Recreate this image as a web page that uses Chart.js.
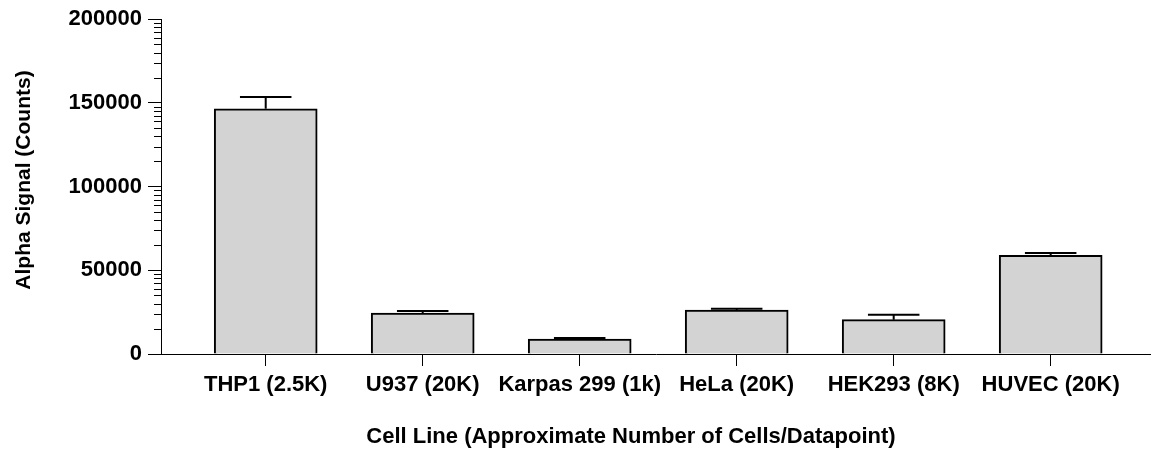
<!DOCTYPE html>
<html>
<head>
<meta charset="utf-8">
<script src="https://cdn.jsdelivr.net/npm/chart.js@4/dist/chart.umd.min.js"></script>
<style>
  html, body { margin: 0; padding: 0; background: #fff; }
  canvas { display: block; }
</style>
</head>
<body>
<canvas id="c" width="1151" height="453"></canvas>
<script>
const categories = ['THP1 (2.5K)', 'U937 (20K)', 'Karpas 299 (1k)', 'HeLa (20K)', 'HEK293 (8K)', 'HUVEC (20K)'];
const means = [146500, 24400, 8900, 26200, 20500, 59000];
const errors = [7000, 1300, 700, 800, 2900, 1400];
const yTicks = [0, 50000, 100000, 150000, 200000];
const xTitle = 'Cell Line (Approximate Number of Cells/Datapoint)';
const yTitle = 'Alpha Signal (Counts)';

const FONT = '"Liberation Sans", Arial, Helvetica, sans-serif';

const minorTicks = {
  id: 'minorTicks',
  afterDraw(chart) {
    const ys = chart.scales.y;
    const ctx = chart.ctx;
    const left = chart.chartArea.left;
    ctx.save();
    ctx.strokeStyle = '#000';
    ctx.lineWidth = 1;
    for (let j = 0; j < yTicks.length - 1; j++) {
      const base = yTicks[j];
      const step = yTicks[j + 1] - yTicks[j];
      for (let k = 2; k <= 9; k++) {
        const y = Math.round(ys.getPixelForValue(base + step * Math.log10(k))) + 0.5;
        ctx.beginPath();
        ctx.moveTo(left - 7, y);
        ctx.lineTo(left, y);
        ctx.stroke();
      }
    }
    ctx.restore();
  }
};

const errorBars = {
  id: 'errorBars',
  afterDatasetsDraw(chart) {
    const xs = chart.scales.x, ys = chart.scales.y;
    const ctx = chart.ctx;
    const meta = chart.getDatasetMeta(0);
    ctx.save();
    ctx.strokeStyle = '#000';
    ctx.lineWidth = 2;
    means.forEach((m, i) => {
      const x = xs.getPixelForValue(i);
      const yb = ys.getPixelForValue(m);
      const yt = ys.getPixelForValue(m + errors[i]);
      const half = meta.data[i].width / 4;
      ctx.beginPath();
      ctx.moveTo(x, yb);
      ctx.lineTo(x, yt);
      ctx.moveTo(x - half, yt);
      ctx.lineTo(x + half, yt);
      ctx.stroke();
    });
    ctx.restore();
  }
};

const axisTitles = {
  id: 'axisTitles',
  afterDraw(chart) {
    const ctx = chart.ctx;
    ctx.save();
    ctx.fillStyle = '#000';
    ctx.textAlign = 'center';
    ctx.textBaseline = 'middle';
    ctx.font = 'bold 22px ' + FONT;
    ctx.fillText(xTitle, 631, 437);
    ctx.translate(24, 180);
    ctx.rotate(-Math.PI / 2);
    ctx.font = 'bold 21px ' + FONT;
    ctx.fillText(yTitle, 0, 0);
    ctx.restore();
  }
};

new Chart(document.getElementById('c'), {
  type: 'bar',
  data: {
    datasets: [{
      data: means.map((v, i) => ({ x: i, y: v })),
      backgroundColor: '#d3d3d3',
      borderColor: '#000',
      borderWidth: 2,
      barThickness: 103
    }]
  },
  options: {
    responsive: false,
    devicePixelRatio: 1,
    animation: false,
    layout: { padding: { left: 0, right: 0, top: 16, bottom: 0 } },
    plugins: { legend: { display: false }, tooltip: { enabled: false } },
    scales: {
      x: {
        type: 'linear',
        offset: false,
        min: -0.667,
        max: 5.639,
        afterBuildTicks(scale) { scale.ticks = categories.map((c, i) => ({ value: i })); },
        afterFit(scale) { scale.height = 99; },
        ticks: {
          autoSkip: false,
          maxRotation: 0,
          minRotation: 0,
          padding: 6,
          color: '#000',
          font: { family: FONT, size: 22, weight: 'bold' },
          callback: (v) => categories[v]
        },
        grid: { display: true, offset: false, drawOnChartArea: false, drawTicks: true, tickLength: 12, color: '#000', lineWidth: 1 },
        border: { display: true, color: '#000', width: 1 }
      },
      y: {
        min: 0,
        max: 200000,
        afterBuildTicks(scale) { scale.ticks = yTicks.map(v => ({ value: v })); },
        afterFit(scale) { scale.width = 161; },
        ticks: {
          padding: 6,
          color: '#000',
          font: { family: FONT, size: 22, weight: 'bold' },
          callback: (v) => String(v)
        },
        grid: { display: true, drawOnChartArea: false, drawTicks: true, tickLength: 13, color: '#000', lineWidth: 1 },
        border: { display: true, color: '#000', width: 1 }
      }
    }
  },
  plugins: [minorTicks, errorBars, axisTitles]
});
</script>
</body>
</html>
